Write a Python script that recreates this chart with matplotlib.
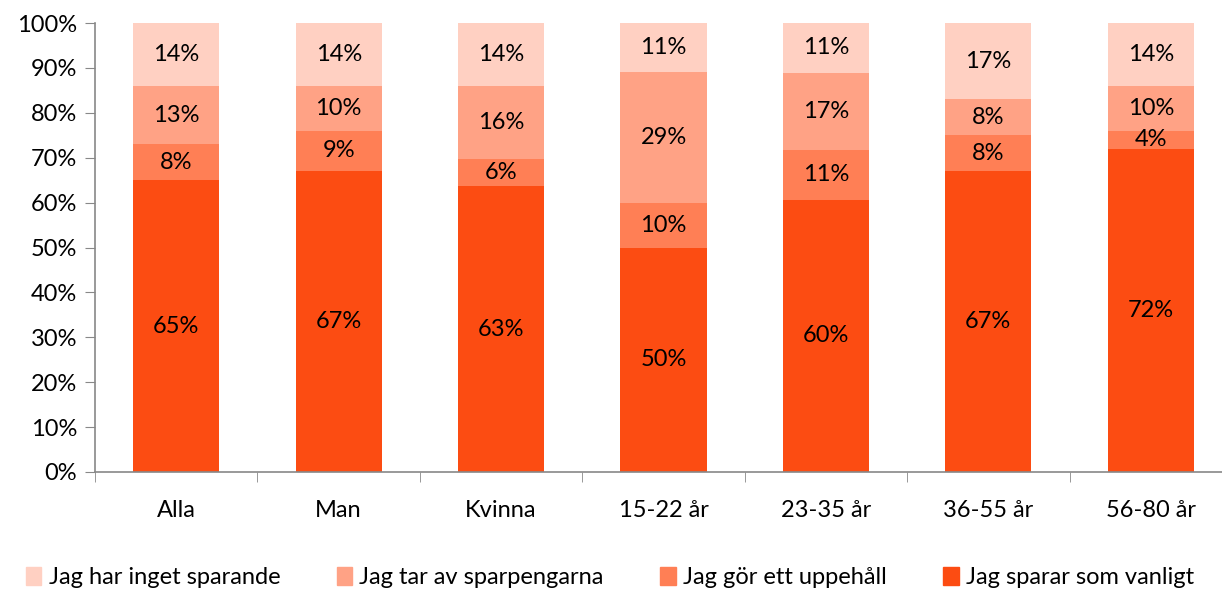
import numpy as np
import matplotlib.pyplot as plt
from matplotlib.patches import Patch

categories = ['Alla', 'Man', 'Kvinna', '15-22 år', '23-35 år', '36-55 år', '56-80 år']
sparar = [65, 67, 63, 50, 60, 67, 72]
uppehall = [8, 9, 6, 10, 11, 8, 4]
tar_av = [13, 10, 16, 29, 17, 8, 10]
inget = [14, 14, 14, 11, 11, 17, 14]

series = [sparar, uppehall, tar_av, inget]
names = ['Jag sparar som vanligt', 'Jag gör ett uppehåll',
         'Jag tar av sparpengarna', 'Jag har inget sparande']
colors = ['#FC4C12', '#FF7F55', '#FFA285', '#FFD0C2']

plt.rcParams['font.family'] = ['Lato', 'DejaVu Sans']
fs = 17

data = np.array(series, dtype=float)
share = data / data.sum(axis=0) * 100  # 100 % stacked

fig = plt.figure(figsize=(12.22, 5.93), dpi=100)
ax = fig.add_axes([95 / 1222, 1 - 472 / 593, 1137 / 1222, 449 / 593])

x = np.arange(len(categories))
bottom = np.zeros(len(categories))
for vals, lab, s, c in zip(series, names, share, colors):
    ax.bar(x, s, 0.53, bottom=bottom, color=c, label=lab)
    for xi, b, h, v in zip(x, bottom, s, vals):
        ax.text(xi, b + h / 2, f'{v}%', ha='center', va='center', fontsize=fs, color='black')
    bottom += s

ax.set_xlim(-0.5, 6.5)
ax.set_ylim(0, 100)
ax.set_yticks(np.arange(0, 101, 10))
ax.set_yticklabels([f'{t}%' for t in range(0, 101, 10)], fontsize=fs)
ax.set_xticks(x)
ax.set_xticklabels(categories, fontsize=fs)
ax.set_xticks(np.arange(-0.5, 6.6, 1), minor=True)
ax.tick_params(axis='x', which='major', length=0, pad=20)
ax.tick_params(axis='x', which='minor', length=7, color='#888888', direction='out')
ax.tick_params(axis='y', length=7, color='#888888', direction='out', pad=6)
for sp in ['top', 'right']:
    ax.spines[sp].set_visible(False)
for sp in ['left', 'bottom']:
    ax.spines[sp].set_color('#888888')
    ax.spines[sp].set_linewidth(1.2)

handles = [Patch(color=c) for c in colors[::-1]]
fig.legend(handles, names[::-1], loc='lower left', bbox_to_anchor=(0.004, -0.028),
           ncol=4, frameon=False, fontsize=fs, handlelength=0.65, handleheight=0.75,
           handletextpad=0.3, columnspacing=2.4)

fig.savefig('out.png', dpi=100)
